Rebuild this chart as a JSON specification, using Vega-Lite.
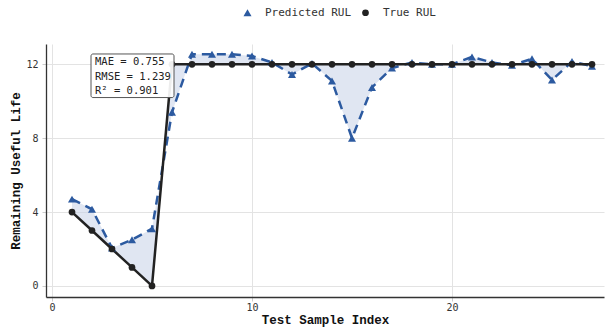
{
  "$schema": "https://vega.github.io/schema/vega-lite/v6.json",
  "autosize": "none",
  "width": 558,
  "height": 253,
  "padding": {"left": 46, "top": 44, "right": 4, "bottom": 34},
  "background": "white",
  "config": {
    "view": {"stroke": null},
    "axis": {
      "labelFont": "DejaVu Sans Mono",
      "labelFontSize": 10,
      "labelColor": "#333",
      "titleFont": "Liberation Mono",
      "titleFontSize": 12.5,
      "titleFontWeight": "bold",
      "titleColor": "#111",
      "domainColor": "#333",
      "domainWidth": 1.3,
      "gridColor": "#e3e3e3",
      "tickColor": "#cccccc",
      "tickSize": 4
    }
  },
  "datasets": {
    "rul": [
      {"i": 1, "True RUL": 4, "Predicted RUL": 4.7},
      {"i": 2, "True RUL": 3, "Predicted RUL": 4.15},
      {"i": 3, "True RUL": 2, "Predicted RUL": 2.05},
      {"i": 4, "True RUL": 1, "Predicted RUL": 2.5},
      {"i": 5, "True RUL": 0, "Predicted RUL": 3.1},
      {"i": 6, "True RUL": 12, "Predicted RUL": 9.4},
      {"i": 7, "True RUL": 12, "Predicted RUL": 12.55},
      {"i": 8, "True RUL": 12, "Predicted RUL": 12.55},
      {"i": 9, "True RUL": 12, "Predicted RUL": 12.55},
      {"i": 10, "True RUL": 12, "Predicted RUL": 12.45},
      {"i": 11, "True RUL": 12, "Predicted RUL": 12.1},
      {"i": 12, "True RUL": 12, "Predicted RUL": 11.45},
      {"i": 13, "True RUL": 12, "Predicted RUL": 12.05},
      {"i": 14, "True RUL": 12, "Predicted RUL": 11.1},
      {"i": 15, "True RUL": 12, "Predicted RUL": 8.0},
      {"i": 16, "True RUL": 12, "Predicted RUL": 10.75},
      {"i": 17, "True RUL": 12, "Predicted RUL": 11.8},
      {"i": 18, "True RUL": 12, "Predicted RUL": 12.1},
      {"i": 19, "True RUL": 12, "Predicted RUL": 12.0},
      {"i": 20, "True RUL": 12, "Predicted RUL": 12.0},
      {"i": 21, "True RUL": 12, "Predicted RUL": 12.4},
      {"i": 22, "True RUL": 12, "Predicted RUL": 12.1},
      {"i": 23, "True RUL": 12, "Predicted RUL": 11.95},
      {"i": 24, "True RUL": 12, "Predicted RUL": 12.3},
      {"i": 25, "True RUL": 12, "Predicted RUL": 11.15},
      {"i": 26, "True RUL": 12, "Predicted RUL": 12.15},
      {"i": 27, "True RUL": 12, "Predicted RUL": 11.9}
    ],
    "box": [
      {"x1": 1.95, "x2": 6.1, "y1": 12.56, "y2": 10.2}
    ],
    "notes": [
      {"x": 2.15, "y": 12.13, "t": "MAE = 0.755"},
      {"x": 2.15, "y": 11.33, "t": "RMSE = 1.239"},
      {"x": 2.15, "y": 10.55, "t": "R² = 0.901"}
    ]
  },
  "layer": [
    {
      "data": {"name": "rul"},
      "mark": {"type": "area", "color": "#c6d1e8", "opacity": 0.55},
      "encoding": {
        "x": {"field": "i", "type": "quantitative",
              "scale": {"domain": [-0.3, 27.6], "nice": false, "zero": false},
              "axis": {"values": [0, 10, 20], "title": "Test Sample Index", "titlePadding": 1, "labelPadding": 1}},
        "y": {"field": "Predicted RUL", "type": "quantitative",
              "scale": {"domain": [-0.6, 13.1], "nice": false},
              "axis": {"values": [0, 4, 8, 12], "title": "Remaining Useful Life", "titlePadding": 3, "labelPadding": 4}},
        "y2": {"field": "True RUL"}
      }
    },
    {
      "data": {"name": "rul"},
      "mark": {"type": "line", "color": "#2c5aa0", "strokeWidth": 2.5, "strokeDash": [9, 6]},
      "encoding": {
        "x": {"field": "i", "type": "quantitative"},
        "y": {"field": "Predicted RUL", "type": "quantitative"}
      }
    },
    {
      "data": {"name": "rul"},
      "mark": {"type": "line", "color": "#222222", "strokeWidth": 2.5},
      "encoding": {
        "x": {"field": "i", "type": "quantitative"},
        "y": {"field": "True RUL", "type": "quantitative"}
      }
    },
    {
      "data": {"name": "rul"},
      "transform": [{"fold": ["Predicted RUL", "True RUL"], "as": ["series", "v"]}],
      "mark": {"type": "point", "filled": true, "opacity": 1},
      "encoding": {
        "x": {"field": "i", "type": "quantitative"},
        "y": {"field": "v", "type": "quantitative"},
        "size": {"field": "series", "type": "nominal", "legend": null,
                 "scale": {"domain": ["Predicted RUL", "True RUL"], "range": [65, 45]}},
        "color": {"field": "series", "type": "nominal",
                  "scale": {"domain": ["Predicted RUL", "True RUL"], "range": ["#2c5aa0", "#222222"]},
                  "legend": {"orient": "none", "legendX": 196, "legendY": -37, "direction": "horizontal", "title": null,
                             "labelFont": "DejaVu Sans Mono", "labelFontSize": 11, "labelColor": "#333", "symbolSize": 70,
                             "labelOffset": 12, "columnPadding": 8}},
        "shape": {"field": "series", "type": "nominal",
                  "scale": {"domain": ["Predicted RUL", "True RUL"], "range": ["triangle-up", "circle"]}}
      }
    },
    {
      "data": {"name": "box"},
      "mark": {"type": "rect", "fill": "white", "fillOpacity": 0.92, "stroke": "#555555", "strokeWidth": 1, "cornerRadius": 2},
      "encoding": {
        "x": {"field": "x1", "type": "quantitative"},
        "x2": {"field": "x2"},
        "y": {"field": "y1", "type": "quantitative"},
        "y2": {"field": "y2"}
      }
    },
    {
      "data": {"name": "notes"},
      "mark": {"type": "text", "align": "left", "baseline": "middle", "font": "DejaVu Sans Mono", "fontSize": 10.5, "color": "#222"},
      "encoding": {
        "x": {"field": "x", "type": "quantitative"},
        "y": {"field": "y", "type": "quantitative"},
        "text": {"field": "t"}
      }
    }
  ]
}
